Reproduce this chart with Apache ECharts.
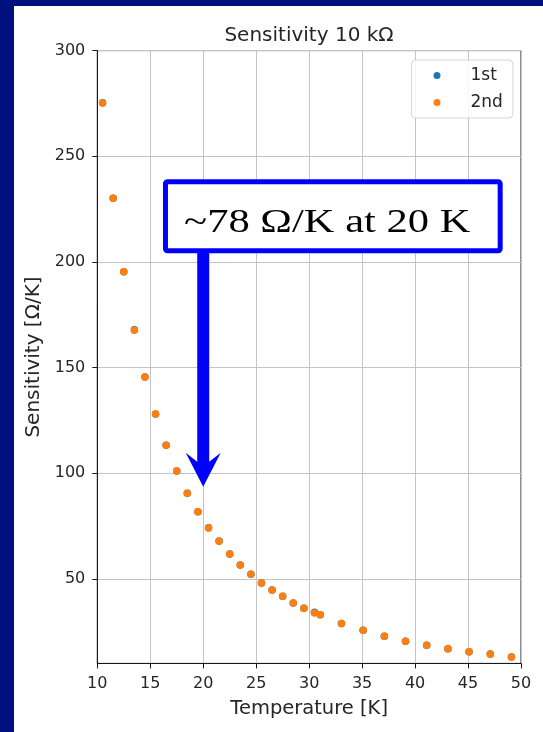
<!DOCTYPE html>
<html>
<head>
<meta charset="utf-8">
<script src="https://cdn.jsdelivr.net/npm/echarts@6/dist/echarts.min.js"></script>
<style>
  html, body { margin: 0; padding: 0; width: 543px; height: 732px; overflow: hidden; background: #00107f; }
  #panel { position: absolute; left: 14px; top: 6px; width: 529px; height: 726px; background: #ffffff; }
  #chart { width: 529px; height: 726px; }
</style>
</head>
<body>
<div id="panel"><div id="chart"></div></div>
<script>
// Temperature sweep points [K]
const temperature = [10.5, 11.5, 12.5, 13.5, 14.5, 15.5, 16.5, 17.5, 18.5, 19.5,
  20.5, 21.5, 22.5, 23.5, 24.5, 25.5, 26.5, 27.5, 28.5, 29.5,
  30.5, 31.05, 33.05, 35.1, 37.1, 39.1, 41.1, 43.1, 45.1, 47.1, 49.1];

// Sensitivity [Ω/K], first run
const sens1st = [275.3, 230.1, 195.4, 167.9, 145.5, 128.0, 113.2, 101.1, 90.5, 81.8,
  74.2, 67.9, 61.8, 56.6, 52.2, 48.1, 44.7, 41.8, 38.6, 36.1,
  34.2, 33.0, 28.9, 25.7, 22.9, 20.5, 18.6, 16.9, 15.5, 14.4, 13.0];

// Sensitivity [Ω/K], second run
const sens2nd = [275.2, 230.1, 195.4, 167.7, 145.5, 128.0, 113.2, 101.1, 90.5, 81.8,
  74.1, 67.8, 61.8, 56.6, 52.2, 48.1, 44.7, 41.8, 38.6, 36.1,
  33.9, 33.0, 28.9, 25.7, 22.9, 20.5, 18.6, 16.9, 15.5, 14.3, 13.0];

const seriesNames = ['1st', '2nd'];
const yTicks = [50, 100, 150, 200, 250, 300];

// Call-out: box edges and arrow tip in data units
const noteText = '~78 Ω/K at 20 K';
const noteBox = { x0: 16.2, x1: 48.27, yTop: 239.1, yBottom: 204.1 };
const noteArrowTip = [20, 93.6];

const FONT = 'DejaVu Sans';
const INK = '#262626';

const chart = echarts.init(document.getElementById('chart'), null, { renderer: 'canvas' });

const pairs = vals => temperature.map((t, i) => [t, vals[i]]);

chart.setOption({
  animation: false,
  backgroundColor: '#ffffff',
  title: {
    text: 'Sensitivity 10 kΩ',
    left: 295, top: 20, textAlign: 'center', padding: 0,
    textStyle: { fontFamily: FONT, fontSize: 20, fontWeight: 'normal', color: INK }
  },
  grid: {
    left: 83.3, right: 22, top: 44.6, bottom: 68.6,
    show: true, borderColor: '#1a1a1a', borderWidth: 1, backgroundColor: 'transparent'
  },
  legend: {
    orient: 'vertical', left: 397.5, top: 54,
    padding: [7, 10, 7, 22], itemGap: 10,
    backgroundColor: 'rgba(255,255,255,0.85)', borderColor: '#d6d6d6', borderWidth: 1, borderRadius: 4,
    icon: 'circle', itemWidth: 7, itemHeight: 7,
    textStyle: { fontFamily: FONT, fontSize: 17, color: INK, padding: [0, 0, 0, 25] },
    data: seriesNames
  },
  xAxis: {
    type: 'value', min: 10, max: 50, interval: 5,
    name: 'Temperature [K]', nameLocation: 'middle', nameGap: 35.5,
    nameTextStyle: { fontFamily: FONT, fontSize: 19.5, color: INK },
    axisLine: { show: true, lineStyle: { color: '#1a1a1a', width: 1 } },
    axisTick: { show: true, inside: false, length: 5, lineStyle: { color: '#1a1a1a' } },
    axisLabel: { fontFamily: FONT, fontSize: 16, color: INK, margin: 12 },
    splitLine: { show: true, lineStyle: { color: '#c4c4c4', width: 1 } }
  },
  yAxis: {
    type: 'value', min: 10, max: 300,
    name: 'Sensitivity [Ω/K]', nameLocation: 'middle', nameGap: 51, nameRotate: 90,
    nameTextStyle: { fontFamily: FONT, fontSize: 20, color: INK },
    axisLine: { show: true, lineStyle: { color: '#1a1a1a', width: 1 } },
    axisTick: { show: true, inside: false, length: 5, customValues: yTicks, lineStyle: { color: '#1a1a1a' } },
    axisLabel: { fontFamily: FONT, fontSize: 16, color: INK, margin: 12, customValues: yTicks },
    splitLine: { show: true, lineStyle: { color: '#c4c4c4', width: 1 } }
  },
  series: [
    { name: seriesNames[0], type: 'scatter', data: pairs(sens1st), symbol: 'circle', symbolSize: 7.5,
      itemStyle: { color: '#1f77b4', opacity: 1 }, z: 2 },
    { name: seriesNames[1], type: 'scatter', data: pairs(sens2nd), symbol: 'circle', symbolSize: 7.5,
      itemStyle: { color: '#ff7f0e', opacity: 1 }, z: 3 }
  ]
});

// Call-out box with a downward arrow, placed in data coordinates
function drawNote() {
  const toPx = (x, y) => chart.convertToPixel({ gridIndex: 0 }, [x, y]);
  const [bx0, byTop] = toPx(noteBox.x0, noteBox.yTop);
  const [bx1, byBot] = toPx(noteBox.x1, noteBox.yBottom);
  const [tx, ty] = toPx(noteArrowTip[0], noteArrowTip[1]);
  const lw = 5;
  const half = 6, headHalf = 17.5, headLen = 34, notch = 25;
  chart.setOption({
    graphic: [
      {
        type: 'polygon', z: 100,
        shape: { points: [
          [tx, ty], [tx - headHalf, ty - headLen], [tx - half, ty - notch],
          [tx - half, byBot - lw], [tx + half, byBot - lw],
          [tx + half, ty - notch], [tx + headHalf, ty - headLen]
        ] },
        style: { fill: '#0000ff' }
      },
      {
        type: 'rect', z: 101,
        shape: { x: bx0 + lw / 2, y: byTop + lw / 2, width: bx1 - bx0 - lw, height: byBot - byTop - lw, r: 2 },
        style: { fill: '#ffffff', stroke: '#0000ff', lineWidth: lw }
      },
      {
        type: 'text', z: 102,
        x: (bx0 + bx1) / 2 - 5.5, y: byBot - 30, scaleX: 1.29,
        style: { text: noteText, font: '33px "Liberation Serif", "Times New Roman", serif',
          fill: '#000000', align: 'center', verticalAlign: 'middle' }
      }
    ]
  });
}
drawNote();
</script>
</body>
</html>
